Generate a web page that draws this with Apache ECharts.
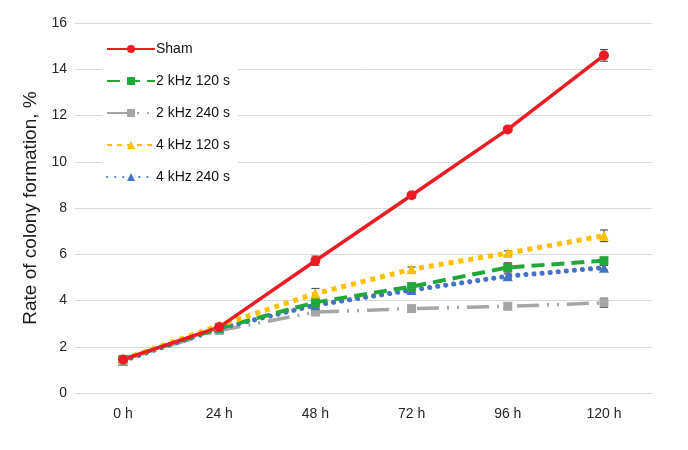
<!DOCTYPE html>
<html>
<head>
<meta charset="utf-8">
<script src="https://cdn.jsdelivr.net/npm/echarts@6/dist/echarts.min.js"></script>
<style>
  html, body { margin: 0; padding: 0; background: #fff; }
  #chart { width: 688px; height: 450px; }
</style>
</head>
<body>
<div id="chart"></div>
<script>
// Time points
var timePoints = ['0 h', '24 h', '48 h', '72 h', '96 h', '120 h'];

// Colony formation rate (%) per group
var sham      = [1.45, 2.85, 5.72, 8.55, 11.40, 14.60];
var k2s120    = [1.45, 2.80, 3.92, 4.60, 5.43, 5.72];
var k2s240    = [1.45, 2.70, 3.50, 3.65, 3.75, 3.90];
var k4s120    = [1.45, 2.92, 4.30, 5.35, 6.05, 6.80];
var k4s240    = [1.40, 2.80, 3.80, 4.45, 5.05, 5.42];

// Standard errors (drawn as error bars)
var shamErr   = [0.05, 0.08, 0.20, 0.12, 0.10, 0.25];
var k2s120Err = [0.05, 0.08, 0.10, 0.15, 0.20, 0.15];
var k2s240Err = [0.05, 0.08, 0.10, 0.10, 0.12, 0.20];
var k4s120Err = [0.05, 0.08, 0.22, 0.10, 0.10, 0.25];
var k4s240Err = [0.05, 0.08, 0.10, 0.10, 0.10, 0.10];

var chart = echarts.init(document.getElementById('chart'));

function errData(vals, errs) {
  return vals.map(function (v, i) { return [i, v - errs[i], v + errs[i]]; });
}

function errSeries(vals, errs) {
  return {
    type: 'custom',
    silent: true,
    z: 1,
    renderItem: function (params, api) {
      var x = api.value(0);
      var lo = api.coord([x, api.value(1)]);
      var hi = api.coord([x, api.value(2)]);
      var w = 4;
      var st = { stroke: '#505050', lineWidth: 1.2 };
      return {
        type: 'group',
        children: [
          { type: 'line', shape: { x1: lo[0], y1: lo[1], x2: hi[0], y2: hi[1] }, style: st },
          { type: 'line', shape: { x1: lo[0] - w, y1: lo[1], x2: lo[0] + w, y2: lo[1] }, style: st },
          { type: 'line', shape: { x1: hi[0] - w, y1: hi[1], x2: hi[0] + w, y2: hi[1] }, style: st }
        ]
      };
    },
    data: errData(vals, errs)
  };
}

function lineSeries(name, data, color, symbol, size, lineType, width, cap) {
  return {
    name: name,
    type: 'line',
    data: data,
    symbol: symbol,
    symbolSize: size,
    z: 3,
    itemStyle: { color: color },
    lineStyle: { color: color, width: width, type: lineType, cap: cap || 'butt' }
  };
}

var series = [
  errSeries(k2s240, k2s240Err),
  errSeries(k4s240, k4s240Err),
  errSeries(k2s120, k2s120Err),
  errSeries(k4s120, k4s120Err),
  errSeries(sham, shamErr),
  lineSeries('2 kHz 240 s', k2s240, '#a6a6a6', 'rect', 9, [22, 8, 2, 8, 2, 8], 3.5),
  lineSeries('4 kHz 240 s', k4s240, '#4472c4', 'triangle', 10, [0.1, 8], 5, 'round'),
  lineSeries('2 kHz 120 s', k2s120, '#22a83a', 'rect', 9, [13, 7], 4),
  lineSeries('4 kHz 120 s', k4s120, '#ffc000', 'triangle', 10, [5, 5], 5),
  lineSeries('Sham', sham, '#ec1c24', 'circle', 10, 'solid', 3.5)
];

chart.setOption({
  backgroundColor: '#ffffff',
  animation: false,
  textStyle: { fontFamily: 'Liberation Sans, Arial, sans-serif' },
  grid: { left: 75, right: 36, top: 23, bottom: 57 },
  legend: {
    orient: 'vertical',
    left: 102,
    top: 38,
    itemWidth: 48,
    itemHeight: 10,
    itemGap: 18,
    padding: [4, 8, 4, 4],
    backgroundColor: '#ffffff',
    data: ['Sham', '2 kHz 120 s', '2 kHz 240 s', '4 kHz 120 s', '4 kHz 240 s'],
    textStyle: { fontSize: 14, color: '#111', padding: [0, 0, 0, -4] }
  },
  xAxis: {
    type: 'category',
    data: timePoints,
    boundaryGap: true,
    axisLine: { show: true, lineStyle: { color: '#d9d9d9' } },
    axisTick: { show: false },
    axisLabel: { fontSize: 14, color: '#262626', margin: 14 }
  },
  yAxis: {
    type: 'value',
    min: 0,
    max: 16,
    interval: 2,
    name: 'Rate of colony formation, %',
    nameLocation: 'middle',
    nameGap: 34,
    nameTextStyle: { fontSize: 19, color: '#1a1a1a' },
    axisLine: { show: false },
    axisTick: { show: false },
    axisLabel: { fontSize: 14, color: '#262626', margin: 8 },
    splitLine: { lineStyle: { color: '#d9d9d9', width: 1 } }
  },
  series: series
});
</script>
</body>
</html>
